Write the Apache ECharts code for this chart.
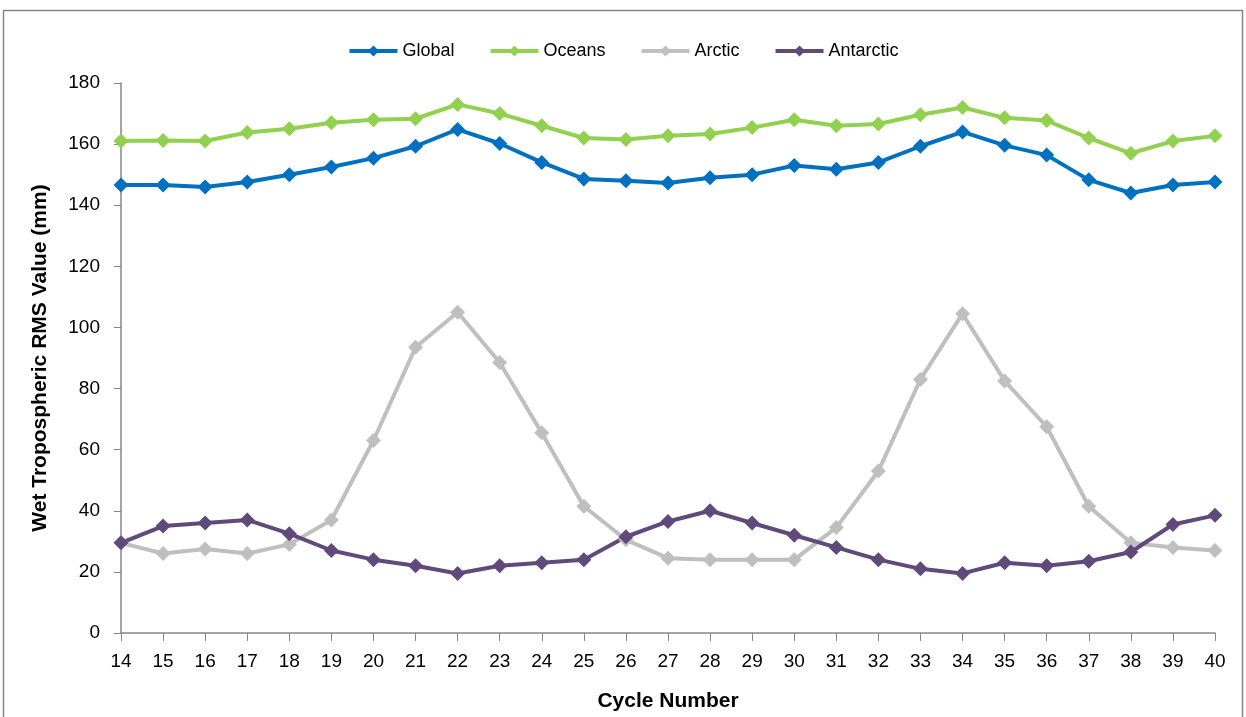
<!DOCTYPE html>
<html><head><meta charset="utf-8">
<script src="https://cdn.jsdelivr.net/npm/echarts@6/dist/echarts.min.js"></script>
<style>html,body{margin:0;padding:0;background:#fff}#c{width:1246px;height:717px}</style>
</head><body><div id="c"></div>
<script>
const cycles = ['14','15','16','17','18','19','20','21','22','23','24','25','26','27','28','29','30','31','32','33','34','35','36','37','38','39','40'];
const globalVals = [146.6,146.6,146,147.6,150,152.5,155.4,159.3,164.8,160.2,154,148.6,148,147.3,149,150,153,151.8,154,159.3,164,159.6,156.4,148.3,144,146.6,147.6];
const oceansVals = [161,161.2,161,163.8,165,167,168,168.3,173,170,166,162,161.5,162.7,163.3,165.4,168,166,166.6,169.6,172,168.6,167.7,162,157,161,162.7];
const arcticVals = [29.5,26,27.5,26,29,37,63,93.5,105,88.5,65.5,41.5,30.5,24.5,24,24,24,34.5,53,83,104.5,82.5,67.5,41.5,29.5,28,27];
const antarcticVals = [29.5,35,36,37,32.5,27,24,22,19.5,22,23,24,31.5,36.5,40,36,32,28,24,21,19.5,23,22,23.5,26.5,35.5,38.5];
const yTicks = [0,20,40,60,80,100,120,140,160,180];

const FONT = '"Liberation Sans Narrow","Arial Narrow","Liberation Sans",sans-serif';
const chart = echarts.init(document.getElementById('c'));
function mk(name, data, color){
  return {name, type:'line', data, symbol:'diamond', symbolSize:15,
    lineStyle:{color, width:4}, itemStyle:{color}, emphasis:{disabled:true}};
}
chart.setOption({
  animation:false,
  textStyle:{fontFamily:FONT},
  graphic:[{type:'rect', shape:{x:3.5,y:10.5,width:1239,height:720}, style:{fill:null, stroke:'#868686', lineWidth:1.5}, silent:true}],
  legend:{top:37, left:'center', itemGap:34, itemWidth:48, itemHeight:14,
    lineStyle:{width:4},
    textStyle:{fontFamily:FONT, fontSize:18, color:'#000'},
    data:['Global','Oceans','Arctic','Antarctic']},
  grid:{left:121, right:31, top:83, bottom:78},
  xAxis:{type:'category', data:cycles, boundaryGap:false,
    name:'Cycle Number', nameLocation:'middle', nameGap:58,
    nameTextStyle:{fontFamily:FONT, fontSize:21, fontWeight:'bold', color:'#000'},
    axisLine:{lineStyle:{color:'#868686', width:1.5}},
    axisTick:{length:8, lineStyle:{color:'#868686'}},
    axisLabel:{fontFamily:FONT, fontSize:19, color:'#000', margin:19, interval:0}},
  yAxis:{type:'value', min:yTicks[0], max:yTicks[yTicks.length-1], interval:20,
    name:'Wet Tropospheric RMS Value (mm)', nameLocation:'middle', nameGap:70,
    nameTextStyle:{fontFamily:FONT, fontSize:21, fontWeight:'bold', color:'#000'},
    axisLine:{show:true, lineStyle:{color:'#868686', width:1.5}},
    axisTick:{show:true, length:7, lineStyle:{color:'#868686'}},
    splitLine:{show:false},
    axisLabel:{fontFamily:FONT, fontSize:19, color:'#000', margin:21}},
  series:[
    mk('Global', globalVals, '#0070C0'),
    mk('Oceans', oceansVals, '#92D050'),
    mk('Arctic', arcticVals, '#BFBFBF'),
    mk('Antarctic', antarcticVals, '#604A7B')
  ]
});
</script></body></html>
